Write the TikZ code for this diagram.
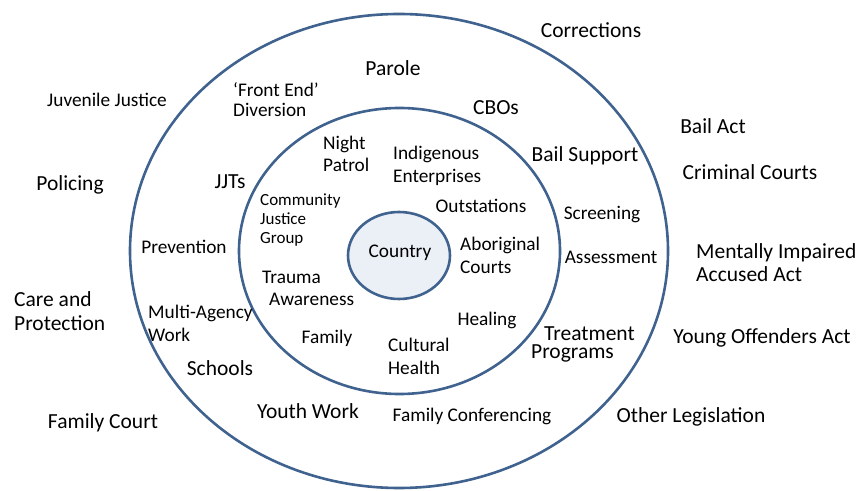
\documentclass[tikz,border=0pt]{standalone}
\usepackage{fontspec}
\setmainfont{Carlito}
\definecolor{ringblue}{HTML}{3F628F}
\definecolor{corefill}{HTML}{EBF0F7}
\tikzset{
  ring/.style={draw=ringblue, line width=2.6bp},
  lbl/.style={inner sep=0pt, text height=0.666em, text depth=0.2em, text=black},
  big/.style={lbl, font=\fontsize{21.5bp}{24bp}\selectfont},
  mid/.style={lbl, font=\fontsize{19.3bp}{22.5bp}\selectfont},
  sml/.style={lbl, font=\fontsize{17bp}{19bp}\selectfont},
  lft/.style={align=left, anchor=west}
}
\begin{document}
\begin{tikzpicture}[x=1bp, y=-1bp]
\useasboundingbox (0,0) rectangle (862,491);
% rings
\draw[ring] (399,251) ellipse [x radius=269, y radius=237];
\draw[ring] (399.5,251) ellipse [x radius=160.5, y radius=143];
\draw[ring, fill=corefill] (399,255.5) ellipse [x radius=51, y radius=43.5];
\node[mid] (country) at (400,255) {Country};

% outer labels
\node[big] (corr) at (591,35) {Corrections};
\node[mid] (juv) at (107,104.5) {Juvenile Justice};
\node[big] (bailact) at (713,131) {Bail Act};
\node[big] (crim) at (750,177) {Criminal Courts};
\node[big] (policing) at (70,188) {Policing};
\node[big, lft] (mia) at (696,279) {Mentally Impaired\\[-1bp]Accused Act};
\node[big, lft] (care) at (14,328) {Care and\\Protection};
\node[big] (yoa) at (762,341) {Young Offenders Act};
\node[big] (famcourt) at (103,426) {Family Court};
\node[big] (other) at (691,420) {Other Legislation};

% middle ring labels
\node[big] (parole) at (393,73) {Parole};
\node[mid, lft] (front) at (233,114) {‘Front End’\\[-2.5bp]Diversion};
\node[big] (cbos) at (496,112) {CBOs};
\node[big] (bailsup) at (585,159) {Bail Support};
\node[big] (jjts) at (230,186) {JJTs};
\node[mid] (screen) at (602,217.5) {Screening};
\node[mid] (prev) at (184,251.5) {Prevention};
\node[mid] (assess) at (611,261.5) {Assessment};
\node[mid, lft] (multi) at (148,339) {Multi-Agency\\Work};
\node[big, lft] (treat) at (531,356.5) {\hspace*{13bp}Treatment\\[-6bp]Programs};
\node[big] (schools) at (220,373) {Schools};
\node[big] (youth) at (308,416) {Youth Work};
\node[mid] (famconf) at (472,419.5) {Family Conferencing};

% inner ring labels
\node[mid, lft] (night) at (323,169.5) {Night\\Patrol};
\node[mid, lft] (indig) at (393,180) {Indigenous\\Enterprises};
\node[sml, lft] (cjg) at (260,241) {Community\\Justice\\Group};
\node[mid] (outst) at (481,210.5) {Outstations};
\node[mid, lft] (abor) at (460,271.5) {Aboriginal\\[1bp]Courts};
\node[mid, lft] (trauma) at (262,303.5) {Trauma\\\hspace*{7bp}Awareness};
\node[mid] (healing) at (487,323.5) {Healing};
\node[mid] (family) at (327,341.5) {Family};
\node[mid, lft] (cult) at (388,372) {Cultural\\Health};
\end{tikzpicture}
\end{document}
